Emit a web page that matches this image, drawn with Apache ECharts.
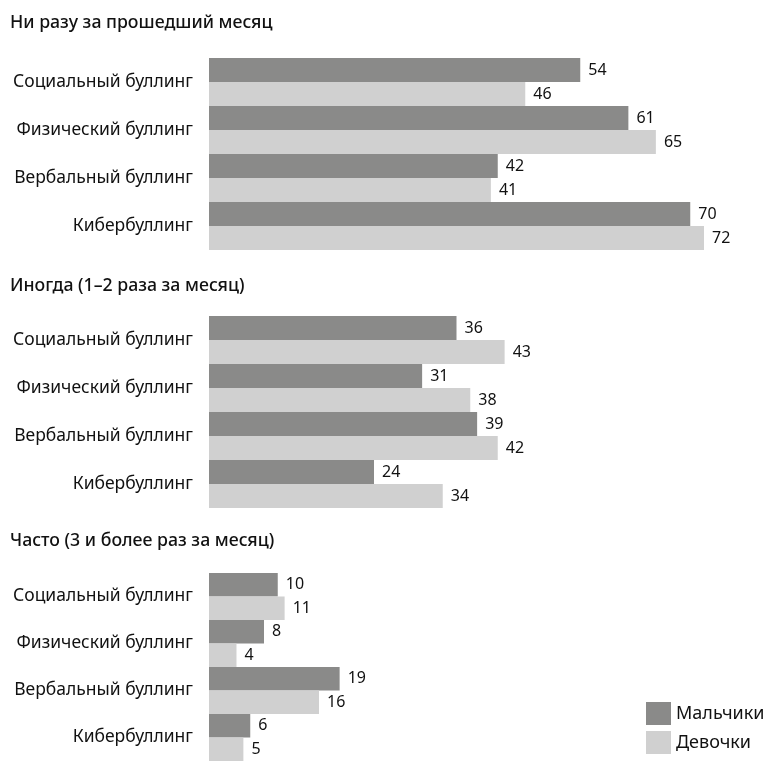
<!DOCTYPE html>
<html><head><meta charset="utf-8">
<script src="https://cdn.jsdelivr.net/npm/echarts@6/dist/echarts.min.js"></script>
<style>html,body{margin:0;padding:0;background:#fff}#c{width:764px;height:761px}</style>
</head><body><div id="c"></div>
<script>
const categories = ['Социальный буллинг', 'Физический буллинг', 'Вербальный буллинг', 'Кибербуллинг'];
const panelTitles = ['Ни разу за прошедший месяц', 'Иногда (1–2 раза за месяц)', 'Часто (3 и более раз за месяц)'];
const seriesNames = ['Мальчики', 'Девочки'];
const boysNever = [54, 61, 42, 70];
const girlsNever = [46, 65, 41, 72];
const boysSometimes = [36, 31, 39, 24];
const girlsSometimes = [43, 38, 42, 34];
const boysOften = [10, 8, 19, 6];
const girlsOften = [11, 4, 16, 5];

const panels = [[boysNever, girlsNever], [boysSometimes, girlsSometimes], [boysOften, girlsOften]];
const colors = ['#8a8a89', '#d0d0d0'];
const tops = [58, 316, 573];
const titleTops = [9, 272, 527];
const FONT = 'Noto Sans';

const chart = echarts.init(document.getElementById('c'));
const option = {
  backgroundColor: '#fff',
  animation: false,
  title: panelTitles.map((t, i) => ({
    text: t, left: 5, top: titleTops[i],
    textStyle: { fontFamily: FONT, fontSize: 17.7, fontWeight: 500, color: '#111' }
  })),
  legend: seriesNames.map((n, j) => ({
    data: [n], left: 646, top: 702 + j * 29, padding: 0,
    itemWidth: 25, itemHeight: 23, icon: 'rect',
    textStyle: { fontFamily: FONT, fontSize: 18, color: '#111', padding: [0, 0, 0, 0] }
  })),
  grid: tops.map(t => ({ left: 209, width: 550, top: t, height: 192 })),
  xAxis: tops.map((t, i) => ({
    type: 'value', gridIndex: i, min: 0, max: 80, show: false
  })),
  yAxis: tops.map((t, i) => ({
    type: 'category', gridIndex: i, data: categories, inverse: true,
    axisLine: { show: false }, axisTick: { show: false },
    axisLabel: { margin: 16, fontFamily: FONT, fontSize: 17.5, color: '#111' }
  })),
  series: []
};
panels.forEach((p, i) => {
  p.forEach((vals, j) => {
    option.series.push({
      type: 'bar', name: seriesNames[j], xAxisIndex: i, yAxisIndex: i,
      data: vals, barGap: '0%', barCategoryGap: '0%',
      itemStyle: { color: colors[j] },
      label: { show: true, position: 'right', distance: 8, fontFamily: FONT, fontSize: 16, color: '#111' }
    });
  });
});
chart.setOption(option);
</script></body></html>
